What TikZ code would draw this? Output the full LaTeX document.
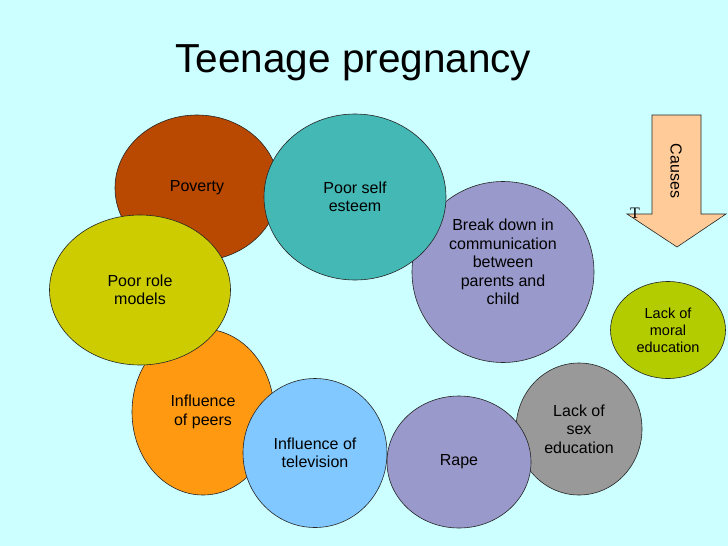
\documentclass[tikz,border=0pt]{standalone}
\usepackage{fontspec}
\setmainfont{Liberation Sans}
\newfontfamily\serifT{Liberation Serif}
\usetikzlibrary{shapes.geometric}

\definecolor{bgcyan}{RGB}{204,255,255}
\definecolor{povertyfill}{RGB}{185,72,0}
\definecolor{esteemfill}{RGB}{68,184,181}
\definecolor{rolefill}{RGB}{204,204,0}
\definecolor{lavender}{RGB}{153,153,204}
\definecolor{peersfill}{RGB}{255,153,17}
\definecolor{tvfill}{RGB}{128,200,255}
\definecolor{sexfill}{RGB}{153,153,153}
\definecolor{moralfill}{RGB}{178,204,0}
\definecolor{arrowfill}{RGB}{255,204,153}

\begin{document}
\begin{tikzpicture}[x=1pt,y=-1pt,
  bubble/.style={ellipse,draw=black!85,line width=0.6pt,inner sep=0pt,align=center,
    font=\fontsize{16}{18.5}\selectfont}]
\fill [bgcyan] (0,0) rectangle (728,546);
\useasboundingbox (0,0) rectangle (728,546);
\node [anchor=base west,font=\fontsize{40.5}{44}\selectfont] (title) at (172,72) {Teenage pregnancy};
\node [bubble,fill=povertyfill,minimum width=164pt,minimum height=146pt] (poverty) at (197,188) {Poverty};
\node [bubble,fill=lavender,minimum width=182pt,minimum height=181pt,text depth=20pt] (breakdown) at (503,272)
  {Break down in\\communication\\between\\parents and\\child};
\node [bubble,fill=esteemfill,minimum width=182pt,minimum height=166pt] (selfesteem) at (355,197) {Poor self\\esteem};
\node [bubble,fill=peersfill,minimum width=142pt,minimum height=166pt] (peers) at (203,412) {Influence\\of peers};
\node [bubble,fill=rolefill,minimum width=181pt,minimum height=150pt] (rolemodels) at (140,290) {Poor role\\models};
\node [bubble,fill=tvfill,minimum width=144pt,minimum height=149pt] (tv) at (315,453) {Influence of\\television};
\node [bubble,fill=sexfill,minimum width=126pt,minimum height=132pt] (sexedu) at (579,429) {Lack of\\sex\\education};
\node [bubble,fill=lavender,minimum width=144pt,minimum height=132pt] (rape) at (459,462) {Rape};
\node [bubble,fill=moralfill,minimum width=115pt,minimum height=97pt,font=\fontsize{14.5}{17}\selectfont] (moral) at (668,330)
  {Lack of\\moral\\education};
\draw [fill=arrowfill,draw=black!85,line width=0.6pt] (652,115) -- (701,115) -- (701,214) -- (726,214) -- (677,247)
  -- (627,214) -- (652,214) -- cycle;
\node [rotate=-90,font=\fontsize{16}{18}\selectfont] (causes) at (676,171) {Causes};
\node [font=\serifT\fontsize{16}{18}\selectfont] (tee) at (635,213) {T};
\end{tikzpicture}
\end{document}
